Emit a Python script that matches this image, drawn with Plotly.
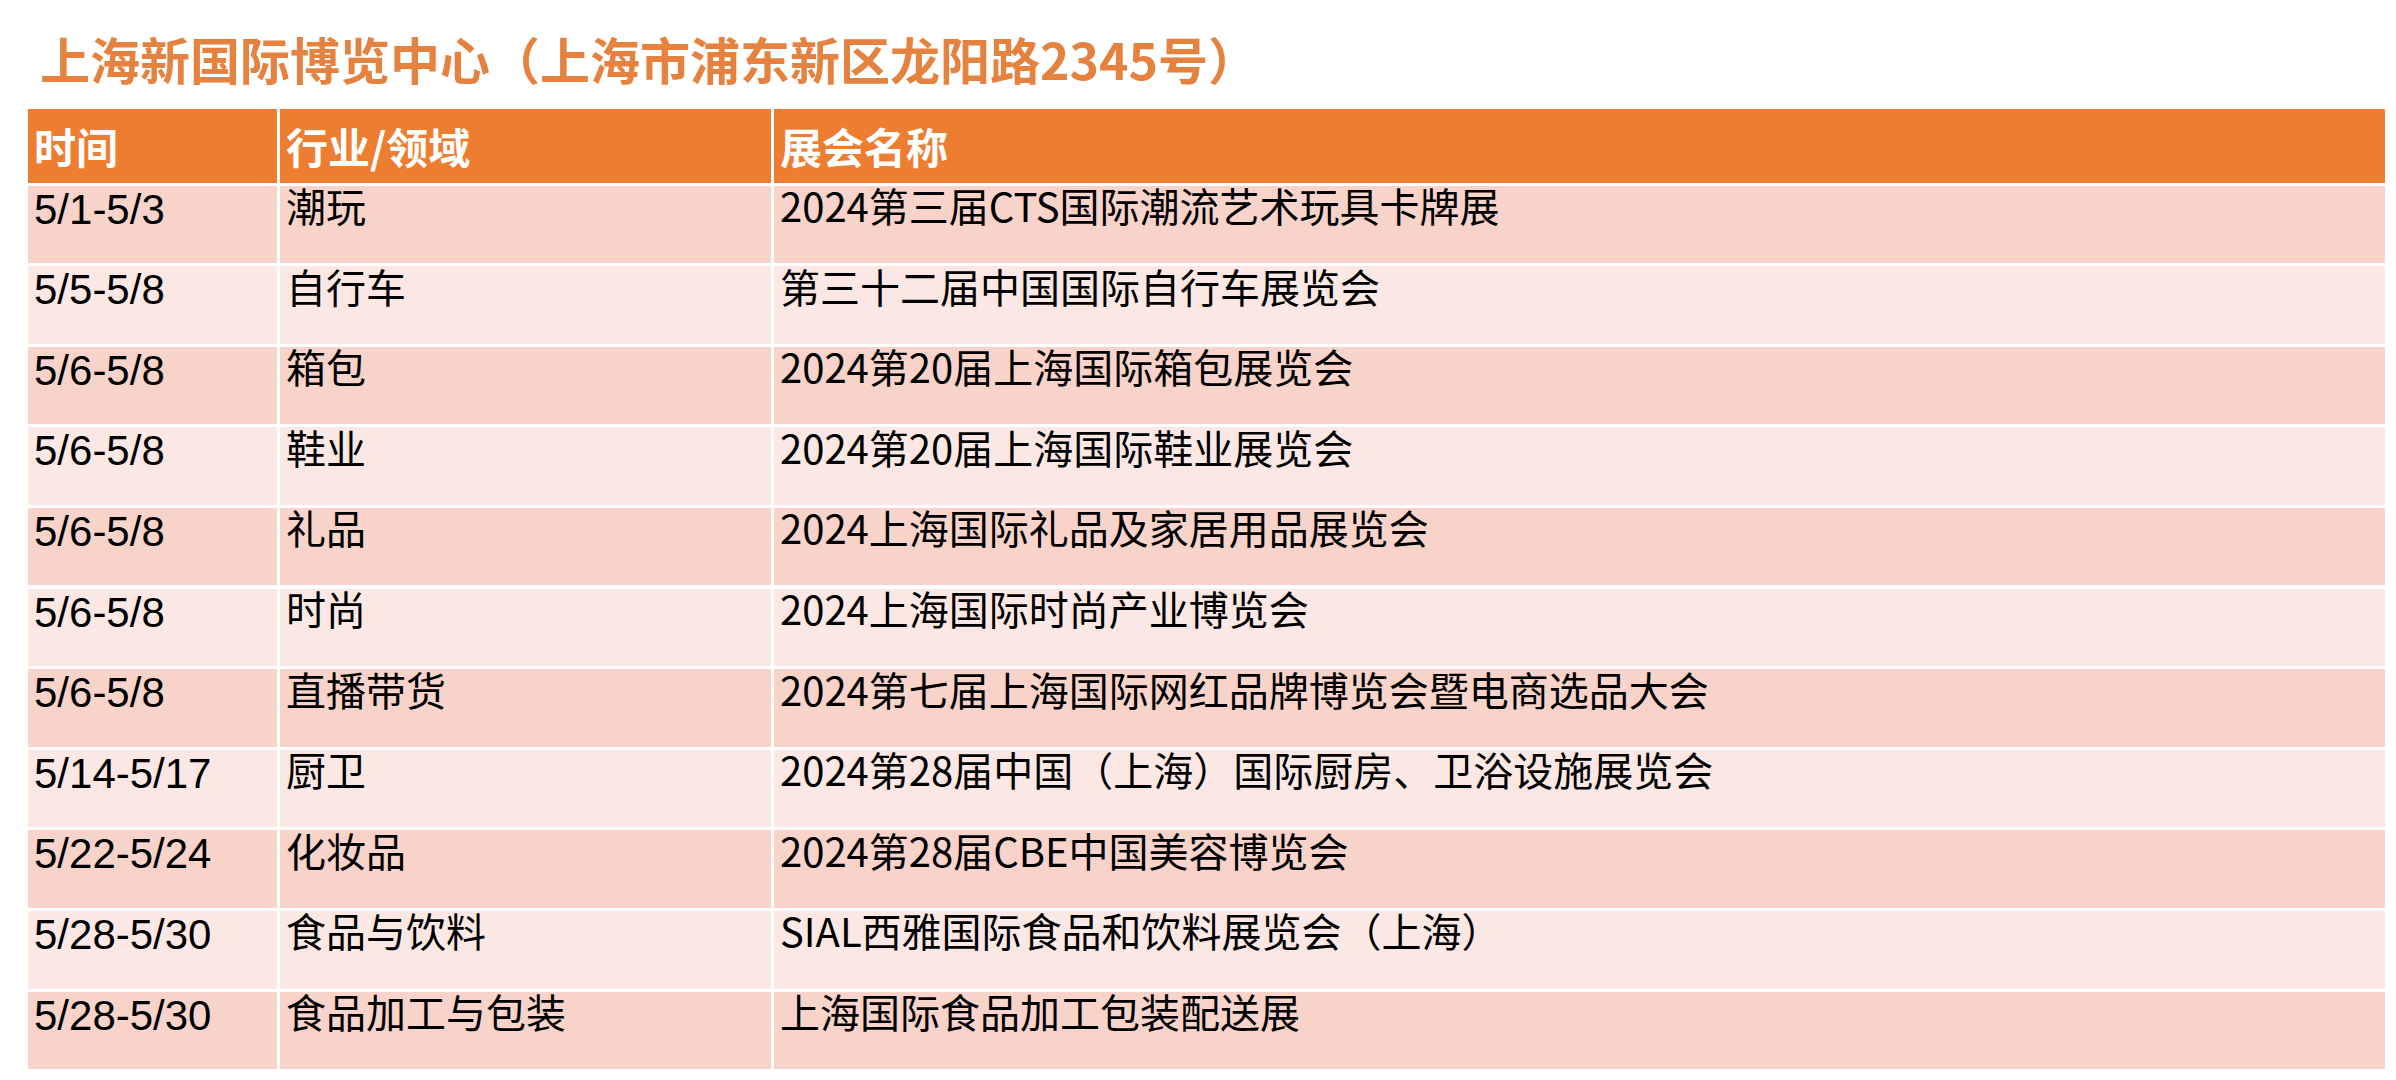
import plotly.graph_objects as go

title = "上海新国际博览中心（上海市浦东新区龙阳路2345号）"
headers = ["时间", "行业/领域", "展会名称"]
dates = ["5/1-5/3", "5/5-5/8", "5/6-5/8", "5/6-5/8", "5/6-5/8", "5/6-5/8",
         "5/6-5/8", "5/14-5/17", "5/22-5/24", "5/28-5/30", "5/28-5/30"]
sectors = ["潮玩", "自行车", "箱包", "鞋业", "礼品", "时尚", "直播带货",
           "厨卫", "化妆品", "食品与饮料", "食品加工与包装"]
shows = ["2024第三届CTS国际潮流艺术玩具卡牌展",
         "第三十二届中国国际自行车展览会",
         "2024第20届上海国际箱包展览会",
         "2024第20届上海国际鞋业展览会",
         "2024上海国际礼品及家居用品展览会",
         "2024上海国际时尚产业博览会",
         "2024第七届上海国际网红品牌博览会暨电商选品大会",
         "2024第28届中国（上海）国际厨房、卫浴设施展览会",
         "2024第28届CBE中国美容博览会",
         "SIAL西雅国际食品和饮料展览会（上海）",
         "上海国际食品加工包装配送展"]

W, H = 2396, 1080
row_fill = ["#F7D3CA" if i % 2 == 0 else "#FBE8E4" for i in range(len(dates))]

fig = go.Figure(go.Table(
    columnwidth=[252, 494, 1614],
    header=dict(
        values=["<b>%s</b>" % h for h in headers],
        fill_color="#ED7D31",
        line=dict(color="white", width=3),
        font=dict(color="white", size=42, family="Noto Sans CJK SC"),
        align="left", height=73,
    ),
    cells=dict(
        values=[dates, sectors, shows],
        fill_color=[row_fill] * 3,
        line=dict(color="white", width=3),
        font=dict(color="black", size=[42, 40, 40],
                  family=["Liberation Sans", "Noto Sans CJK SC", "Noto Sans CJK SC"]),
        align="left", height=80.6,
    ),
    domain=dict(x=[18 / W, 2378 / W], y=[0, 1 - 99 / H]),
))

fig.update_layout(
    width=W, height=H,
    margin=dict(l=0, r=0, t=0, b=0),
    paper_bgcolor="white",
    annotations=[dict(
        text="<b>%s</b>" % title, x=30 / W, y=1 - 50 / H,
        xref="paper", yref="paper", xanchor="left", yanchor="middle",
        showarrow=False,
        font=dict(color="#E5823F", size=50, family="Noto Sans CJK SC"),
    )],
)

fig.write_html("out.html")
